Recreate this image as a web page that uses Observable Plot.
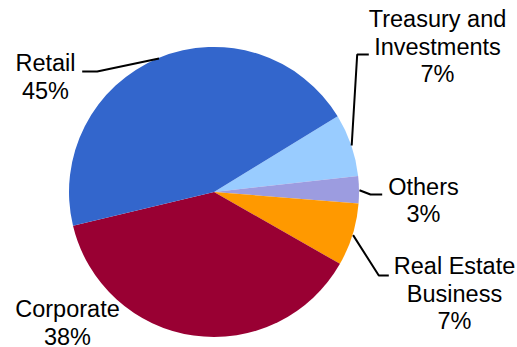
<!DOCTYPE html>
<html><head><meta charset="utf-8">
<script src="https://cdn.jsdelivr.net/npm/d3@7"></script>
<script src="https://cdn.jsdelivr.net/npm/@observablehq/plot@0.6"></script>
<style>html,body{margin:0;padding:0;background:#fff;} #chart svg{display:block}</style>
</head><body><div id="chart"></div>
<script>
// ---- data ----
const categories = ["Treasury and Investments", "Others", "Real Estate Business", "Corporate", "Retail"];
const shares = [7, 3, 7, 38, 45];
const labelLines = [["Treasury and", "Investments"], ["Others"], ["Real Estate", "Business"], ["Corporate"], ["Retail"]];
const colors = ["#99CCFF", "#9C9CE0", "#FF9900", "#990033", "#3366CC"];

// ---- layout (pixel units of the 517x347 frame) ----
const W = 517, H = 347;
const pieCenter = [214, 192], pieRadius = 145, startDeg = 58.5;
const labelAnchor = [[437, 81.7], [423, 221.7], [454, 328.5], [67, 344], [45, 98.3]]; // centre x, last-line baseline
const leaderBends = [[[356.7, 54], [368.3, 54]], [[370, 194], [381.7, 194]], [[378.3, 275], [388.3, 275]], null, [[96.7, 71], [81.7, 71]]];

const slices = categories.map((name, i) => ({name, share: shares[i], color: colors[i], i}));
const start = startDeg * Math.PI / 180;
const arcs = d3.pie().sort(null).value(d => d.share).startAngle(start).endAngle(start + 2 * Math.PI)(slices);

// leader lines: from slice mid-angle on the rim, through bends
const leaders = [];
arcs.forEach(a => {
  const bends = leaderBends[a.data.i];
  if (!bends) return;
  const m = (a.startAngle + a.endAngle) / 2;
  leaders.push({name: a.data.name, x: pieCenter[0] + pieRadius * Math.sin(m), y: pieCenter[1] - pieRadius * Math.cos(m)});
  bends.forEach(([x, y]) => leaders.push({name: a.data.name, x, y}));
});

const labels = slices.map(s => ({
  name: s.name,
  x: labelAnchor[s.i][0], y: labelAnchor[s.i][1],
  text: [...labelLines[s.i], `${s.share}%`].join("\n")
}));

function pieMark(index, scales) {
  const x = scales.x, y = scales.y;
  const cx = x(pieCenter[0]), cy = y(pieCenter[1]);
  const r = x(pieCenter[0] + pieRadius) - cx;
  const arc = d3.arc().innerRadius(0).outerRadius(r);
  const g = d3.create("svg:g").attr("transform", `translate(${cx},${cy})`);
  g.selectAll("path").data(arcs).join("path")
    .attr("d", arc)
    .attr("fill", d => d.data.color);
  return g.node();
}

const chart = Plot.plot({
  width: W, height: H, margin: 0,
  x: {domain: [0, W], range: [0, W], axis: null},
  y: {domain: [0, H], range: [0, H], axis: null},
  style: {fontFamily: "'Liberation Sans', Arial, sans-serif", background: "white", color: "black"},
  marks: [
    pieMark,
    Plot.line(leaders, {x: "x", y: "y", z: "name", stroke: "black", strokeWidth: 2, strokeLinejoin: "miter", strokeLinecap: "butt"}),
    Plot.text(labels, {x: "x", y: "y", text: "text", fontSize: 23.5, lineHeight: 1.17, lineAnchor: "bottom", textAnchor: "middle", fill: "black"})
  ]
});
document.getElementById("chart").appendChild(chart);
</script>
</body></html>
